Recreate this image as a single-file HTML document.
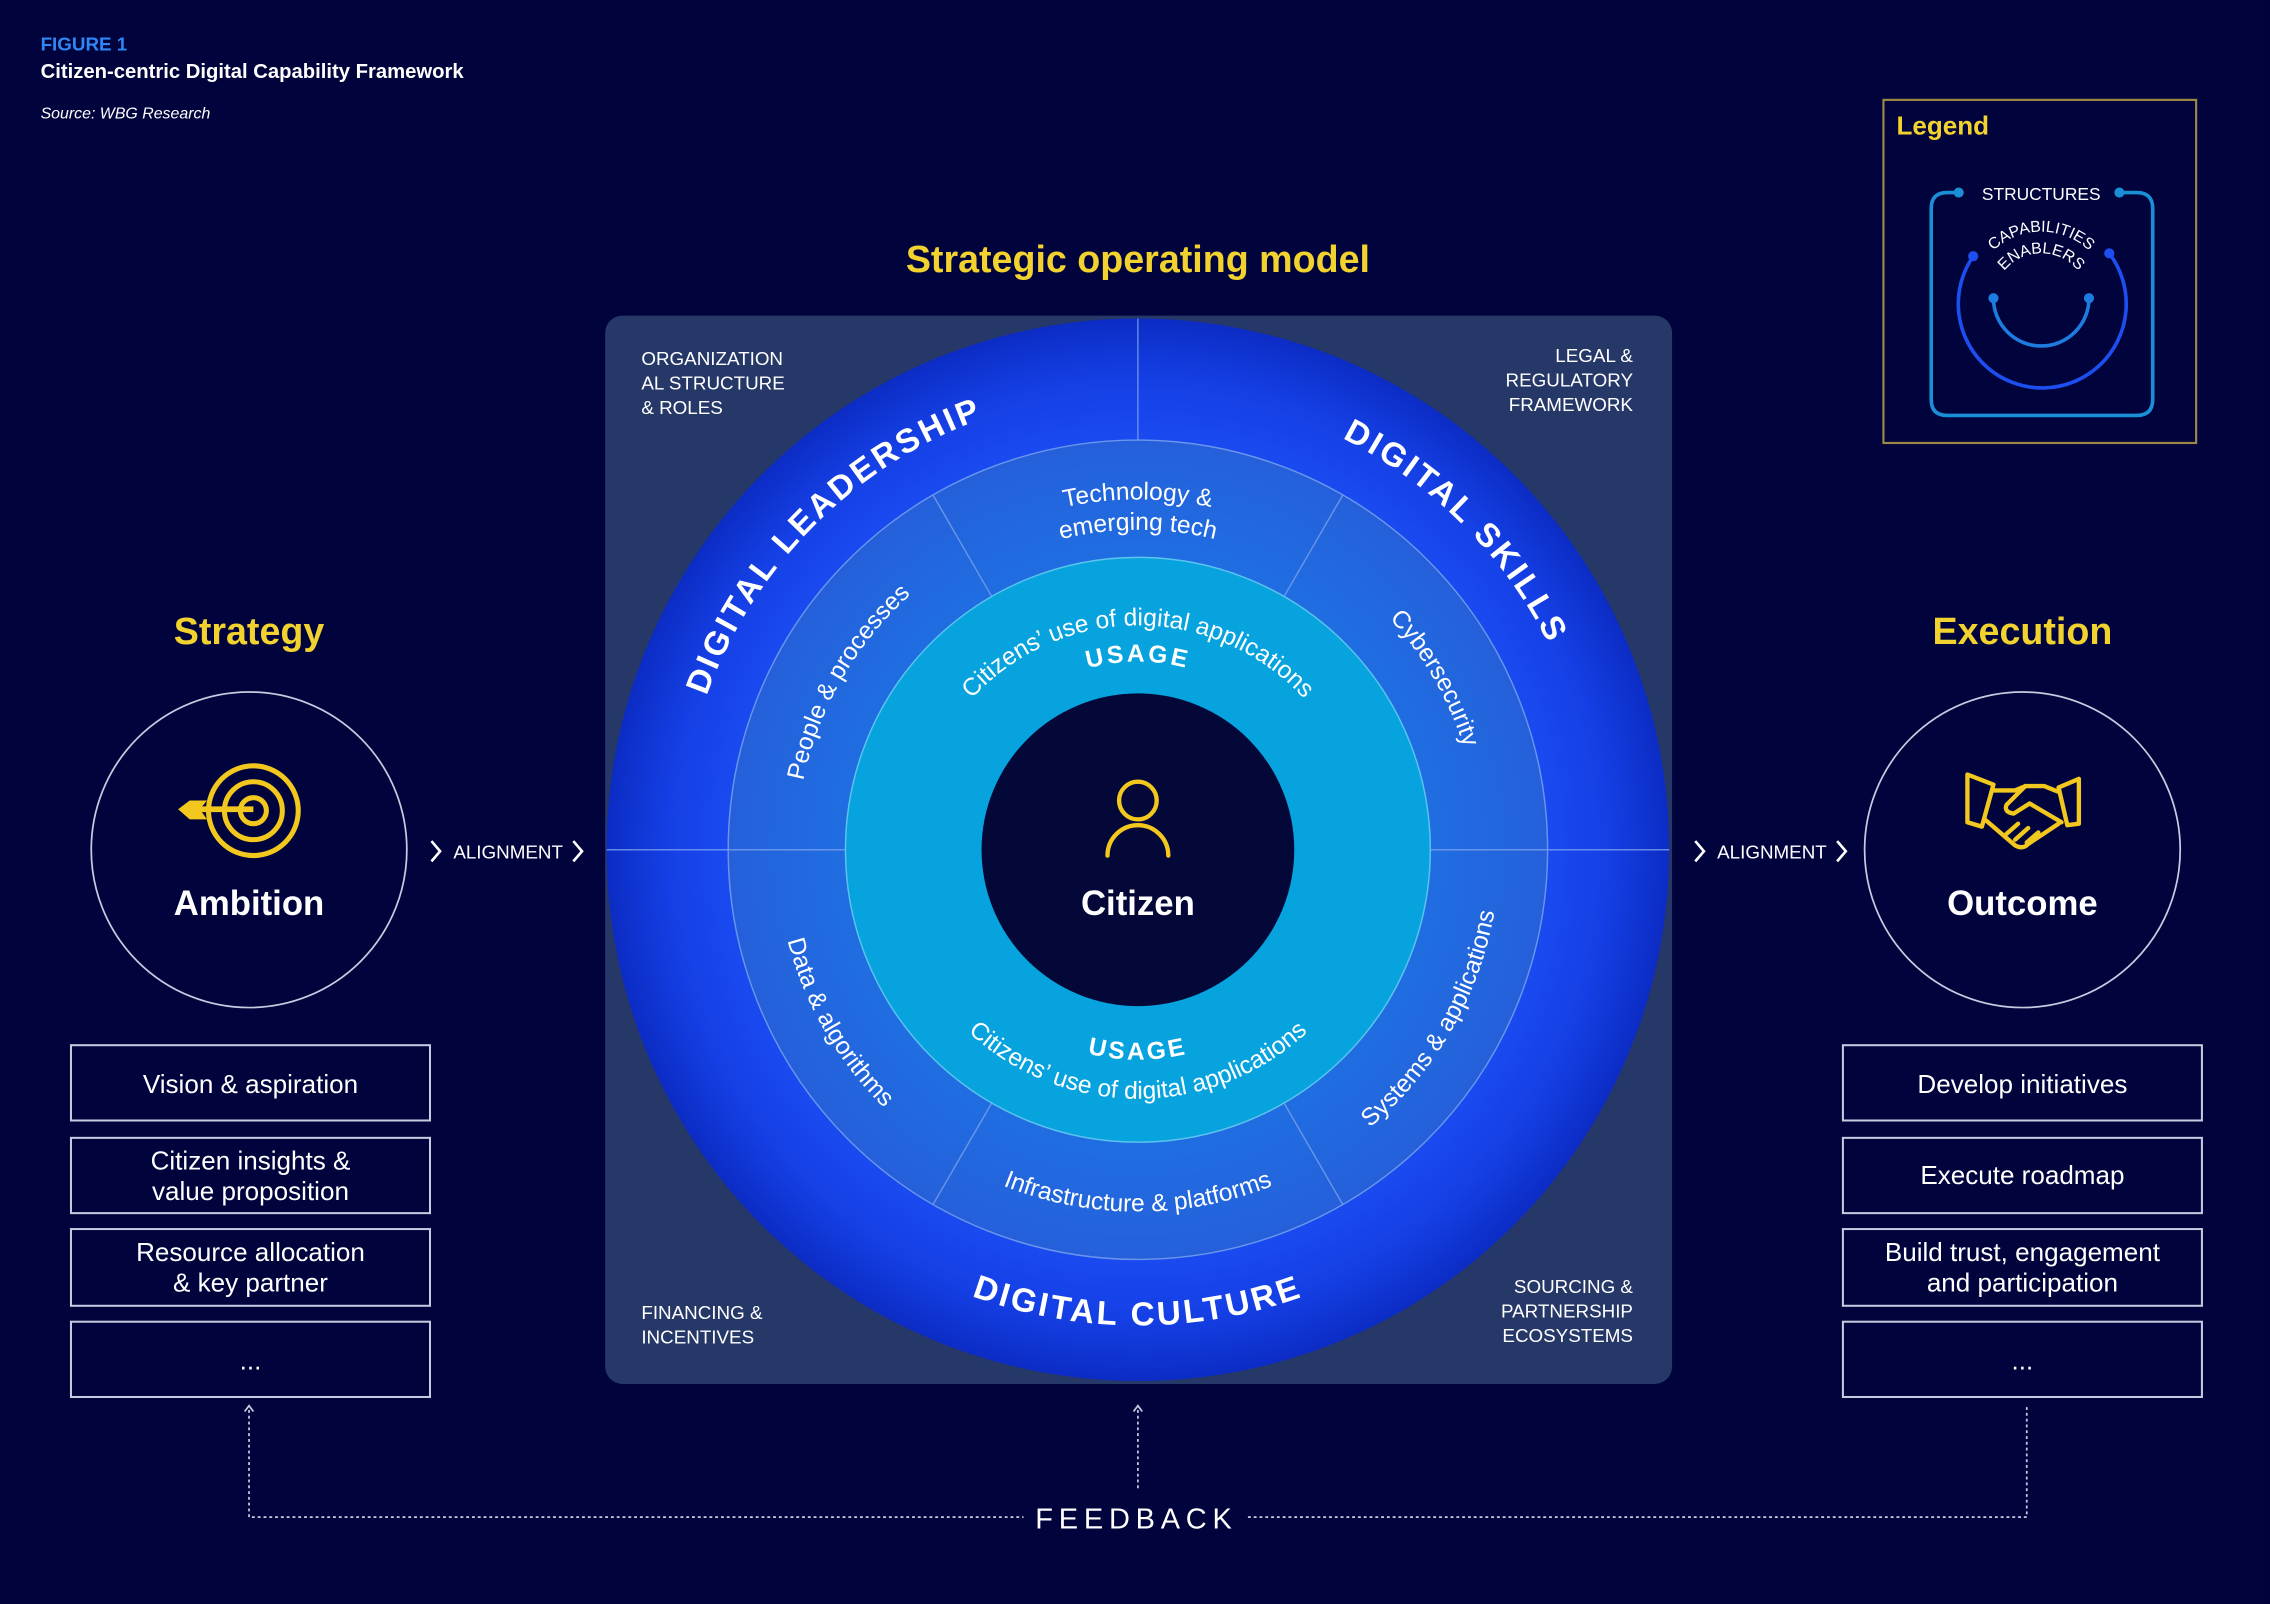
<!DOCTYPE html>
<html><head><meta charset="utf-8">
<style>
html,body{margin:0;padding:0;background:#01033c;}
svg{display:block;}
text{font-family:"Liberation Sans","DejaVu Sans",sans-serif;}
</style></head>
<body>
<svg width="2270" height="1604" viewBox="0 0 1568 1108" xmlns="http://www.w3.org/2000/svg">
<defs>
  <radialGradient id="gOuter" cx="786" cy="587" r="367" gradientUnits="userSpaceOnUse">
    <stop offset="0.75" stop-color="#1a4cf2"/>
    <stop offset="0.88" stop-color="#1540e6"/>
    <stop offset="1" stop-color="#0c2cc4"/>
  </radialGradient>
  <radialGradient id="gMid" cx="786" cy="587" r="283" gradientUnits="userSpaceOnUse">
    <stop offset="0.7" stop-color="#1f6ee2"/>
    <stop offset="1" stop-color="#2560da"/>
  </radialGradient>
  <!-- text paths -->
  <path id="pLead" d="M 480.9 764.5 A 352 352 0 0 1 1035.9 338.1" fill="none"/>
  <path id="pLead2" d="M 1061.1 810 A 318 318 0 0 0 510.6 428"/>
  <path id="tLead" d="M 511.6 746 A 318 318 0 0 1 945 311.6"/>
  <path id="tSkill" d="M 627 311.6 A 318 318 0 0 1 1061 746"/>
  <path id="tCult" d="M 497 749 A 334 334 0 0 0 1075 749"/>
  <path id="tTech1" d="M 544 587 A 242 242 0 0 1 1028 587"/>
  <path id="tTech2" d="M 565 587 A 221 221 0 0 1 1007 587"/>
  <path id="tPeople" d="M 550 587 A 236 236 0 0 1 668 382.6"/>
  <path id="tCyber" d="M 904 382.6 A 236 236 0 0 1 1022 587"/>
  <path id="tData" d="M 536 587 A 250 250 0 0 0 661 803.5"/>
  <path id="tSys" d="M 911 803.5 A 250 250 0 0 0 1036 587"/>
  <path id="tInfra" d="M 661 803.5 A 250 250 0 0 0 911 803.5"/>
  <path id="tU1" d="M 631 587 A 155 155 0 0 1 941 587"/>
  <path id="tU2" d="M 656 587 A 130 130 0 0 1 916 587"/>
  <path id="tU3" d="M 641 587 A 145 145 0 0 0 931 587"/>
  <path id="tU4" d="M 614 587 A 172 172 0 0 0 958 587"/>
  <path id="lCap" d="M 1362 208 A 48 48 0 0 1 1458 208"/>
  <path id="lEn" d="M 1377 208 A 33 33 0 0 1 1443 208"/>
</defs>

<rect width="1568" height="1108" fill="#01033c"/>

<!-- title -->
<text x="28" y="35" font-size="13" font-weight="bold" fill="#2f86f5">FIGURE 1</text>
<text x="28" y="54" font-size="14" font-weight="bold" fill="#ffffff">Citizen-centric Digital Capability Framework</text>
<text x="28" y="82" font-size="11" font-style="italic" fill="#ffffff">Source: WBG Research</text>

<!-- legend -->
<rect x="1301" y="69" width="216" height="237" fill="none" stroke="#9c8745" stroke-width="1.5"/>
<text x="1310" y="93" font-size="18" font-weight="bold" fill="#f2d22e">Legend</text>
<path d="M 1353 133 L 1345 133 Q 1334 133 1334 144 L 1334 276 Q 1334 287 1345 287 L 1476 287 Q 1487 287 1487 276 L 1487 144 Q 1487 133 1476 133 L 1464 133" fill="none" stroke="#1a8fd6" stroke-width="2.5"/>
<circle cx="1353" cy="133" r="3.5" fill="#1a8fd6"/><circle cx="1464" cy="133" r="3.5" fill="#1a8fd6"/>
<text x="1410" y="138" font-size="12" fill="#ffffff" text-anchor="middle">STRUCTURES</text>
<path d="M 1363 177 A 58 58 0 1 0 1457 175" fill="none" stroke="#1d4ff0" stroke-width="2.5"/>
<circle cx="1363" cy="177" r="3.5" fill="#1d4ff0"/><circle cx="1457" cy="175" r="3.5" fill="#1d4ff0"/>
<path d="M 1377 206 A 33 33 0 0 0 1443 206" fill="none" stroke="#1e7be0" stroke-width="2.5"/>
<circle cx="1377" cy="206" r="3.5" fill="#1e7be0"/><circle cx="1443" cy="206" r="3.5" fill="#1e7be0"/>
<text font-size="11" fill="#ffffff"><textPath href="#lCap" startOffset="50%" text-anchor="middle">CAPABILITIES</textPath></text>
<text font-size="11" fill="#ffffff"><textPath href="#lEn" startOffset="50%" text-anchor="middle">ENABLERS</textPath></text>

<!-- headings -->
<text x="786" y="188" font-size="26" font-weight="bold" fill="#f2d22e" text-anchor="middle">Strategic operating model</text>
<text x="172" y="445" font-size="26" font-weight="bold" fill="#f2d22e" text-anchor="middle">Strategy</text>
<text x="1397" y="445" font-size="26" font-weight="bold" fill="#f2d22e" text-anchor="middle">Execution</text>

<!-- panel -->
<rect x="418" y="218" width="737" height="738" rx="12" fill="#263868"/>
<text font-size="13" fill="#ffffff"><tspan x="443" y="252">ORGANIZATION</tspan><tspan x="443" y="269">AL STRUCTURE</tspan><tspan x="443" y="286">&amp; ROLES</tspan></text>
<text font-size="13" fill="#ffffff" text-anchor="end"><tspan x="1128" y="250">LEGAL &amp;</tspan><tspan x="1128" y="267">REGULATORY</tspan><tspan x="1128" y="284">FRAMEWORK</tspan></text>
<text font-size="13" fill="#ffffff"><tspan x="443" y="911">FINANCING &amp;</tspan><tspan x="443" y="928">INCENTIVES</tspan></text>
<text font-size="13" fill="#ffffff" text-anchor="end"><tspan x="1128" y="893">SOURCING &amp;</tspan><tspan x="1128" y="910">PARTNERSHIP</tspan><tspan x="1128" y="927">ECOSYSTEMS</tspan></text>

<!-- wheel -->
<circle cx="786" cy="587" r="367" fill="url(#gOuter)"/>
<circle cx="786" cy="587" r="283" fill="url(#gMid)" stroke="#6a95ec" stroke-width="1"/>
<line x1="419" y1="587" x2="1153" y2="587" stroke="#7aa0ee" stroke-width="1" opacity="0.8"/>
<line x1="786" y1="220" x2="786" y2="304" stroke="#7aa0ee" stroke-width="1" opacity="0.8"/>
<g stroke="#7aa0ee" stroke-width="1" opacity="0.8">
  <line x1="644.5" y1="342" x2="685" y2="412"/>
  <line x1="927.5" y1="342" x2="887" y2="412"/>
  <line x1="644.5" y1="832" x2="685" y2="762"/>
  <line x1="927.5" y1="832" x2="887" y2="762"/>
</g>
<circle cx="786" cy="587" r="202" fill="#07a3df" stroke="#5cc4ee" stroke-width="1"/>
<circle cx="786" cy="587" r="108" fill="#030838"/>

<!-- outer texts -->
<g font-size="23" font-weight="bold" fill="#ffffff" letter-spacing="2">
<text><textPath href="#tLead" startOffset="50%" text-anchor="middle">DIGITAL LEADERSHIP</textPath></text>
<text><textPath href="#tSkill" startOffset="50%" text-anchor="middle">DIGITAL SKILLS</textPath></text>
<text><textPath href="#tCult" startOffset="50%" text-anchor="middle">DIGITAL CULTURE</textPath></text>
</g>
<!-- middle texts -->
<g font-size="17" fill="#ffffff">
<text><textPath href="#tTech1" startOffset="50%" text-anchor="middle">Technology &amp;</textPath></text>
<text><textPath href="#tTech2" startOffset="50%" text-anchor="middle">emerging tech</textPath></text>
<text><textPath href="#tPeople" startOffset="50%" text-anchor="middle">People &amp; processes</textPath></text>
<text><textPath href="#tCyber" startOffset="50%" text-anchor="middle">Cybersecurity</textPath></text>
<text><textPath href="#tData" startOffset="50%" text-anchor="middle">Data &amp; algorithms</textPath></text>
<text><textPath href="#tSys" startOffset="50%" text-anchor="middle">Systems &amp; applications</textPath></text>
<text><textPath href="#tInfra" startOffset="50%" text-anchor="middle">Infrastructure &amp; platforms</textPath></text>
<text><textPath href="#tU1" startOffset="50%" text-anchor="middle">Citizens’ use of digital applications</textPath></text>
<text><textPath href="#tU4" startOffset="50%" text-anchor="middle">Citizens’ use of digital applications</textPath></text>
</g>
<g font-size="17" font-weight="bold" fill="#ffffff" letter-spacing="2">
<text><textPath href="#tU2" startOffset="50%" text-anchor="middle">USAGE</textPath></text>
<text><textPath href="#tU3" startOffset="50%" text-anchor="middle">USAGE</textPath></text>
</g>
<!-- citizen -->
<circle cx="786" cy="553" r="13" fill="none" stroke="#f2c81e" stroke-width="3"/>
<path d="M 765 591 A 21 21 0 0 1 807 591" fill="none" stroke="#f2c81e" stroke-width="3" stroke-linecap="round"/>
<text x="786" y="632" font-size="24" font-weight="bold" fill="#ffffff" text-anchor="middle">Citizen</text>

<!-- left circle -->
<circle cx="172" cy="587" r="109" fill="none" stroke="#c7cbe0" stroke-width="1.2"/>
<g fill="none" stroke="#f2c81e" stroke-width="3.5">
<circle cx="175" cy="560" r="31"/><circle cx="175" cy="560" r="20"/><circle cx="175" cy="560" r="9"/>
</g>
<line x1="130" y1="559" x2="175" y2="559" stroke="#f2c81e" stroke-width="4"/>
<path d="M 123 559 L 131 553 L 143 553 L 138 559 L 143 566 L 131 566 Z" fill="#f2c81e"/>
<text x="172" y="632" font-size="24" font-weight="bold" fill="#ffffff" text-anchor="middle">Ambition</text>

<!-- right circle -->
<circle cx="1397" cy="587" r="109" fill="none" stroke="#c7cbe0" stroke-width="1.2"/>
<g fill="none" stroke="#f2c81e" stroke-width="3" stroke-linejoin="round" stroke-linecap="round">
<path d="M 1359 535 L 1377 542 L 1369 571 L 1359 568 Z"/>
<path d="M 1436 538 L 1422 544 L 1428 570 L 1436 569 Z"/>
<path d="M 1377 546 L 1392 546 L 1399 543 L 1412 543 L 1422 547"/>
<path d="M 1399 543 L 1386 556 Q 1384 561 1391 562 L 1402 555 L 1424 568"/>
<path d="M 1371 566 L 1392 584 Q 1397 587 1401 583 L 1422 569"/>
<path d="M 1386 576 L 1394 569 M 1392 580 L 1401 572 M 1400 582 L 1408 575"/>
</g>
<text x="1397" y="632" font-size="24" font-weight="bold" fill="#ffffff" text-anchor="middle">Outcome</text>

<!-- alignment -->
<g stroke="#ffffff" stroke-width="1.8" fill="none">
<path d="M 298 581 L 304 588 L 298 595"/><path d="M 396 581 L 402 588 L 396 595"/>
<path d="M 1171 581 L 1177 588 L 1171 595"/><path d="M 1269 581 L 1275 588 L 1269 595"/>
</g>
<text x="351" y="593" font-size="13" fill="#ffffff" text-anchor="middle">ALIGNMENT</text>
<text x="1224" y="593" font-size="13" fill="#ffffff" text-anchor="middle">ALIGNMENT</text>

<!-- boxes -->
<g fill="none" stroke="#c7cbe0" stroke-width="1.4">
<rect x="49" y="722" width="248" height="52"/><rect x="49" y="786" width="248" height="52"/>
<rect x="49" y="849" width="248" height="53"/><rect x="49" y="913" width="248" height="52"/>
<rect x="1273" y="722" width="248" height="52"/><rect x="1273" y="786" width="248" height="52"/>
<rect x="1273" y="849" width="248" height="53"/><rect x="1273" y="913" width="248" height="52"/>
</g>
<g font-size="18" fill="#ffffff" text-anchor="middle">
<text x="173" y="755">Vision &amp; aspiration</text>
<text x="173" y="808">Citizen insights &amp;</text><text x="173" y="829">value proposition</text>
<text x="173" y="871">Resource allocation</text><text x="173" y="892">&amp; key partner</text>
<text x="173" y="946">...</text>
<text x="1397" y="755">Develop initiatives</text>
<text x="1397" y="818">Execute roadmap</text>
<text x="1397" y="871">Build trust, engagement</text><text x="1397" y="892">and participation</text>
<text x="1397" y="946">...</text>
</g>

<!-- feedback -->
<g fill="none" stroke="#c7cbe0" stroke-width="1.2" stroke-dasharray="2 2">
<path d="M 172 974 L 172 1048 L 707 1048"/>
<path d="M 862 1048 L 1400 1048 L 1400 970"/>
<path d="M 786 974 L 786 1030"/>
</g>
<g fill="none" stroke="#c7cbe0" stroke-width="1.2">
<path d="M 169 975 L 172 971 L 175 975"/><path d="M 783 975 L 786 971 L 789 975"/>
</g>
<text x="785" y="1056" font-size="20" fill="#ffffff" text-anchor="middle" letter-spacing="4">FEEDBACK</text>
</svg>
</body></html>
